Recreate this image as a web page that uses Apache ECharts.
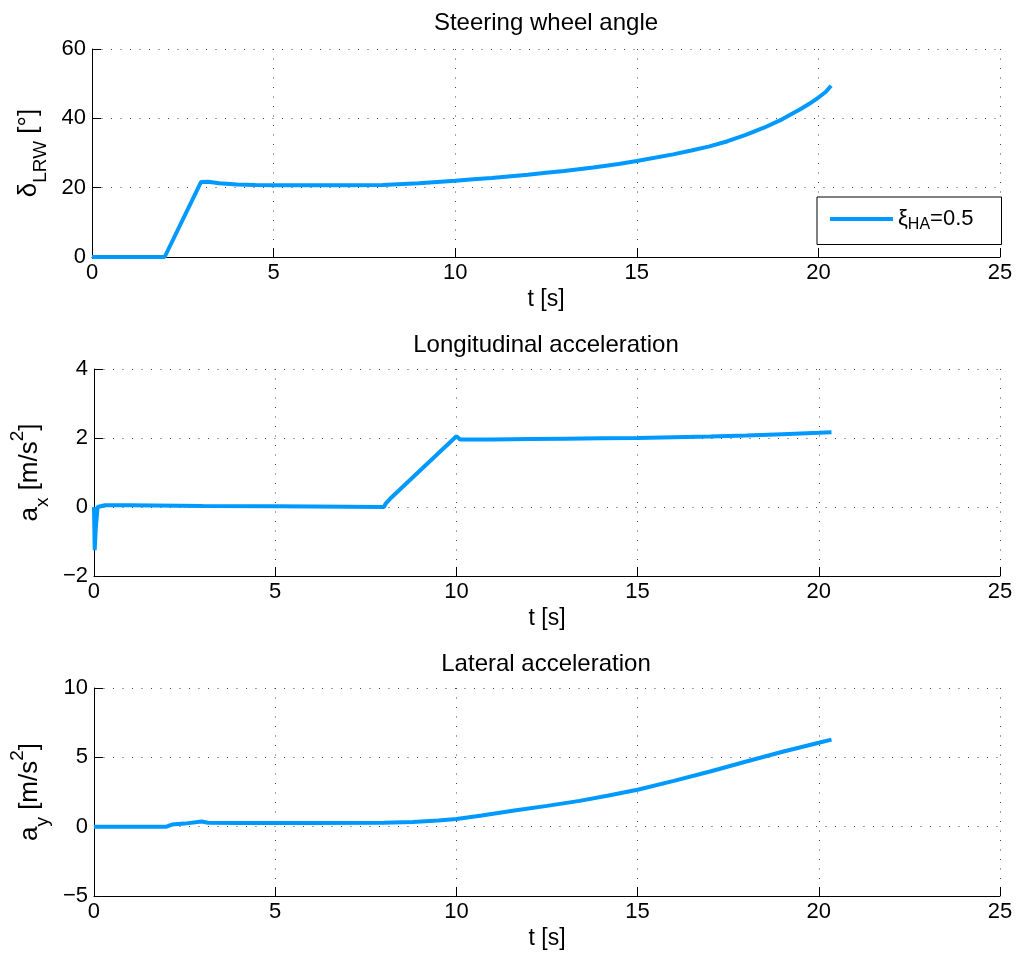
<!DOCTYPE html>
<html>
<head>
<meta charset="utf-8">
<script src="https://cdn.jsdelivr.net/npm/echarts@6/dist/echarts.min.js"></script>
<style>
html,body{margin:0;padding:0;background:#fff;}
#c{width:1018px;height:958px;}
</style>
</head>
<body>
<div id="c"></div>
<script>
// ---- data ----
var steerT = [0, 2, 3, 3.2, 3.5, 4, 4.5, 5, 6, 7, 8, 9, 10, 10.5, 11, 12, 12.5, 13, 13.8, 14.5, 15, 16, 16.5, 17, 17.5, 18, 18.5, 19, 19.5, 19.75, 20, 20.2, 20.35];
var steerV = [0, 0, 21.6, 21.7, 21.3, 20.9, 20.75, 20.7, 20.7, 20.7, 20.8, 21.3, 22.0, 22.4, 22.8, 23.7, 24.3, 24.8, 25.8, 26.8, 27.7, 29.6, 30.7, 31.9, 33.4, 35.2, 37.3, 39.7, 42.6, 44.2, 46.0, 47.6, 49.4];

var axT = [0, 0.02, 0.05, 0.1, 0.15, 0.3, 1, 3, 5, 8, 8.05, 8.2, 10, 10.1, 11, 12, 13, 14, 15, 16, 17, 18, 19, 20, 20.35];
var axV = [0, -1.25, -0.6, 0, 0.05, 0.05, 0.05, 0.03, 0.02, 0, 0.1, 0.27, 2.05, 1.96, 1.96, 1.97, 1.98, 1.99, 2.0, 2.02, 2.04, 2.07, 2.11, 2.15, 2.17];

var ayT = [0, 2, 2.15, 2.5, 2.97, 3.15, 4, 6, 8, 8.8, 9.5, 10, 10.7, 11.6, 12.5, 13.4, 14.2, 15, 16, 17, 18, 19, 20, 20.35];
var ayV = [0, 0, 0.15, 0.22, 0.37, 0.28, 0.27, 0.27, 0.28, 0.34, 0.45, 0.56, 0.8, 1.16, 1.5, 1.86, 2.25, 2.66, 3.3, 3.98, 4.7, 5.4, 6.05, 6.28];

var titles = ['Steering wheel angle', 'Longitudinal acceleration', 'Lateral acceleration'];
var xTicks = {min: 0, max: 25, interval: 5};
var yTicks = [{min: 0, max: 60, interval: 20}, {min: -2, max: 4, interval: 2}, {min: -5, max: 10, interval: 5}];
var yNames = ['{m|δ}{sub|LRW}{m| [°]}', '{m|a}{sub|x}{m| [m/s}{sup|2}{m|]}', '{m|a}{sub|y}{m| [m/s}{sup|2}{m|]}'];
var legendName = 'ξHA=0.5';

// ---- layout ----
var FONT = 'Liberation Sans, Arial, Helvetica, sans-serif';
var BLUE = '#0099ff';
var grids = [
  {left: 92, width: 908, top: 49, height: 208},
  {left: 92, width: 908, top: 369, height: 207},
  {left: 92, width: 908, top: 688, height: 208}
];
var titleTops = [6, 328, 647];

function zip(a, b) { return a.map(function (v, i) { return [v, b[i]]; }); }
var seriesData = [zip(steerT, steerV), zip(axT, axV), zip(ayT, ayV)];

var nameRich = {
  m: {fontSize: 26, fontFamily: FONT, color: '#000', lineHeight: 44, verticalAlign: 'middle'},
  sub: {fontSize: 19, fontFamily: FONT, color: '#000', lineHeight: 19, verticalAlign: 'bottom'},
  sup: {fontSize: 19, fontFamily: FONT, color: '#000', lineHeight: 19, verticalAlign: 'top'}
};

var option = {
  animation: false,
  backgroundColor: '#fff',
  title: titles.map(function (t, i) {
    return {text: t, left: 541, top: titleTops[i], textAlign: 'center',
      textStyle: {fontFamily: FONT, fontSize: 24, fontWeight: 'normal', color: '#000'}};
  }),
  grid: grids,
  legend: {
    data: [{name: legendName, icon: 'rect'}],
    left: 817, top: 197,
    orient: 'vertical',
    backgroundColor: '#fff',
    borderColor: '#000', borderWidth: 1,
    padding: [11, 28, 12, 13],
    itemWidth: 63, itemHeight: 4,
    formatter: function () { return '{m|ξ}{sub|HA}{m|=0.5}'; },
    textStyle: {fontFamily: FONT, fontSize: 22, color: '#000',
      rich: {
        m: {fontSize: 22, fontFamily: FONT, color: '#000', lineHeight: 27, verticalAlign: 'middle'},
        sub: {fontSize: 16, fontFamily: FONT, color: '#000', lineHeight: 16, verticalAlign: 'bottom'}
      }}
  },
  xAxis: grids.map(function (g, i) {
    return {
      type: 'value', gridIndex: i, min: xTicks.min, max: xTicks.max, interval: xTicks.interval,
      name: 't [s]', nameLocation: 'middle', nameGap: 31,
      nameTextStyle: {fontFamily: FONT, fontSize: 23, color: '#000'},
      axisLine: {show: true, onZero: false, lineStyle: {color: '#000', width: 1}},
      axisTick: {show: true, inside: true, length: 9, lineStyle: {color: '#000'}},
      axisLabel: {fontFamily: FONT, fontSize: 22, color: '#000', margin: 5},
      splitLine: {show: true, lineStyle: {color: '#444', width: 1, type: [1, 8.5]}}
    };
  }),
  yAxis: grids.map(function (g, i) {
    return {
      type: 'value', gridIndex: i, min: yTicks[i].min, max: yTicks[i].max, interval: yTicks[i].interval,
      name: yNames[i], nameLocation: 'middle', nameGap: 41,
      nameTextStyle: {fontFamily: FONT, fontSize: 26, color: '#000', rich: nameRich},
      axisLine: {show: true, onZero: false, lineStyle: {color: '#000', width: 1}},
      axisTick: {show: true, inside: true, length: 9, lineStyle: {color: '#000'}},
      axisLabel: {fontFamily: FONT, fontSize: 22, color: '#000', margin: 6,
        formatter: function (v) { return String(v).replace('-', '\u2212'); }},
      splitLine: {show: true, lineStyle: {color: '#444', width: 1, type: [1, 8.5]}}
    };
  }),
  series: seriesData.map(function (d, i) {
    return {
      type: 'line', name: legendName, xAxisIndex: i, yAxisIndex: i, data: d,
      showSymbol: false, symbol: 'none', smooth: false,
      lineStyle: {color: BLUE, width: 4}, itemStyle: {color: BLUE}
    };
  })
};

var chart = echarts.init(document.getElementById('c'), null, {renderer: 'canvas'});
chart.setOption(option);
</script>
</body>
</html>
